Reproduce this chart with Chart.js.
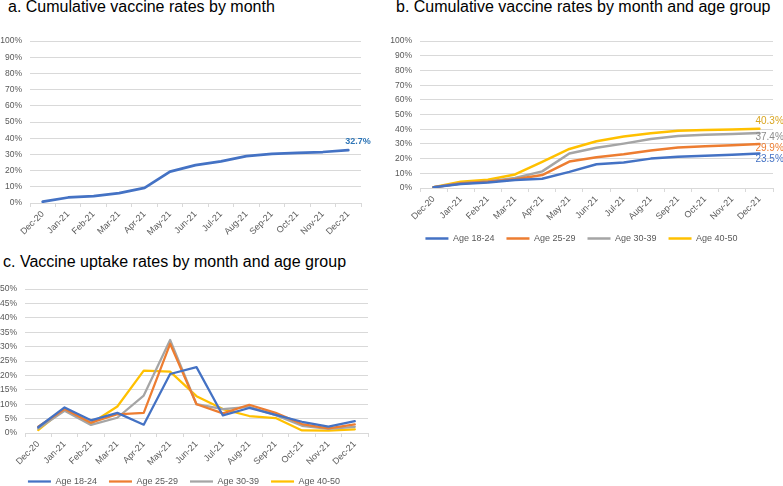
<!DOCTYPE html>
<html>
<head>
<meta charset="utf-8">
<script src="https://cdn.jsdelivr.net/npm/chart.js@4.4.1/dist/chart.umd.min.js"></script>
<style>
  html, body { margin: 0; padding: 0; background: #fff; overflow: hidden; }
  body { width: 783px; height: 486px; position: relative; font-family: "Liberation Sans", Arial, sans-serif; }
  .title { position: absolute; font-size: 16px; line-height: 16px; color: #000; white-space: nowrap; }
  canvas { position: absolute; }
</style>
</head>
<body>
<div class="title" style="left:8px;top:-1px">a. Cumulative vaccine rates by month</div>
<div class="title" style="left:396px;top:-1px">b. Cumulative vaccine rates by month and age group</div>
<div class="title" style="left:3px;top:254px">c. Vaccine uptake rates by month and age group</div>
<canvas id="chartA" width="390" height="212" style="left:0;top:28px"></canvas>
<canvas id="chartB" width="393" height="225" style="left:390px;top:28px"></canvas>
<canvas id="chartC" width="390" height="220" style="left:0;top:276px"></canvas>

<script>
// ------------------------------------------------------
// DATA
// ------------------------------------------------------
const months = ["Dec-20", "Jan-21", "Feb-21", "Mar-21", "Apr-21", "May-21", "Jun-21",
                "Jul-21", "Aug-21", "Sep-21", "Oct-21", "Nov-21", "Dec-21"];
const ageGroups = ["Age 18-24", "Age 25-29", "Age 30-39", "Age 40-50"];

// a. cumulative, all ages (%)
const overallCum = [0.8, 3.4, 4.2, 6.1, 9.3, 19.4, 23.4, 25.7, 28.9, 30.3, 30.9, 31.5, 32.7];

// b. cumulative by age group (%)
const cum1824 = [0.5, 2.8, 3.8, 5.4, 6.3, 11.0, 16.2, 17.4, 20.0, 21.2, 22.0, 22.6, 23.5];
const cum2529 = [0.5, 3.0, 4.2, 6.0, 8.8, 18.0, 21.0, 23.0, 25.6, 27.6, 28.5, 29.1, 29.9];
const cum3039 = [0.5, 3.2, 4.5, 6.8, 11.3, 23.5, 27.4, 30.2, 33.4, 35.4, 36.3, 36.8, 37.4];
const cum4050 = [0.5, 4.2, 5.6, 9.2, 17.8, 26.6, 31.8, 35.0, 37.2, 38.9, 39.5, 39.9, 40.3];

// c. monthly uptake by age group (%)
const up1824 = [2.0, 8.9, 4.4, 7.0, 2.9, 20.5, 22.9, 6.1, 8.7, 6.3, 3.9, 2.2, 4.1];
const up2529 = [2.2, 8.3, 3.6, 6.5, 7.0, 31.0, 10.0, 6.8, 9.8, 7.0, 3.1, 1.6, 3.0];
const up3039 = [1.5, 7.7, 2.8, 5.3, 13.0, 32.3, 10.0, 8.3, 9.1, 6.2, 2.5, 1.4, 2.1];
const up4050 = [1.0, 8.5, 3.3, 9.2, 21.7, 21.3, 12.8, 8.3, 5.9, 5.2, 0.9, 0.8, 1.3];

const colors = ["#4472C4", "#ED7D31", "#A5A5A5", "#FFC000"];
const gridColor = "#D9D9D9";
const tickColor = "#595959";
const tickFont = { family: "Liberation Sans", size: 8.5 };
const xTickFont = { family: "Liberation Sans", size: 9 };


// ------------------------------------------------------
// PLUGIN — VALUE LABEL AT LAST POINT
// ------------------------------------------------------
const endLabels = {
  id: "endLabels",
  afterDatasetsDraw(chart, args, opts) {
    if (!opts.items) return;
    const ctx = chart.ctx;
    ctx.save();
    opts.items.forEach(item => {
      const meta = chart.getDatasetMeta(item.dataset);
      const pt = meta.data[meta.data.length - 1];
      const values = chart.data.datasets[item.dataset].data;
      ctx.font = item.font;
      ctx.fillStyle = item.color;
      ctx.textAlign = "left";
      ctx.textBaseline = "middle";
      ctx.fillText(values[values.length - 1].toFixed(1) + "%", pt.x + item.dx, pt.y + item.dy);
    });
    ctx.restore();
  }
};


// ------------------------------------------------------
// SHARED OPTIONS
// ------------------------------------------------------
function makeOptions(cfg) {
  return {
    responsive: false,
    animation: false,
    devicePixelRatio: 1,
    layout: { padding: cfg.padding },
    scales: {
      x: {
        offset: true,
        grid: {
          offset: true,
          drawOnChartArea: false,
          drawTicks: true,
          tickLength: 4,
          color: gridColor
        },
        border: { display: true, color: gridColor },
        ticks: {
          color: tickColor,
          font: xTickFont,
          minRotation: 45,
          maxRotation: 45,
          autoSkip: false,
          padding: 2
        },
        afterFit: s => { s.height = cfg.xHeight; }
      },
      y: {
        min: 0,
        max: cfg.yMax,
        grid: { color: gridColor, drawTicks: false },
        border: { display: false },
        ticks: {
          stepSize: cfg.step,
          color: tickColor,
          font: tickFont,
          padding: 8,
          callback: v => v + "%"
        },
        afterFit: s => { s.width = cfg.yWidth; }
      }
    },
    plugins: {
      legend: cfg.legend ? {
        display: true,
        position: "bottom",
        labels: {
          usePointStyle: true,
          pointStyle: "line",
          pointStyleWidth: 23,
          color: tickColor,
          font: { family: "Liberation Sans", size: 9 },
          padding: 12
        }
      } : { display: false },
      tooltip: { enabled: false },
      endLabels: { items: cfg.labels || [] }
    }
  };
}

function lineSet(label, data, color, width) {
  return {
    label,
    data,
    borderColor: color,
    backgroundColor: color,
    borderWidth: width,
    pointRadius: 0,
    tension: 0,
    borderJoinStyle: "round",
    borderCapStyle: "round"
  };
}


// ------------------------------------------------------
// a. CUMULATIVE — ALL
// ------------------------------------------------------
new Chart(document.getElementById("chartA"), {
  type: "line",
  data: {
    labels: months,
    datasets: [lineSet("All", overallCum, colors[0], 2.75)]
  },
  options: makeOptions({
    padding: { top: 6, right: 29, left: 0, bottom: 0 },
    xHeight: 37, yWidth: 30, yMax: 100, step: 10, legend: false,
    labels: [{ dataset: 0, dx: -3, dy: -9, font: "bold 9px 'Liberation Sans'", color: "#2E75B6" }]
  }),
  plugins: [endLabels]
});


// ------------------------------------------------------
// b. CUMULATIVE — BY AGE GROUP
// ------------------------------------------------------
new Chart(document.getElementById("chartB"), {
  type: "line",
  data: {
    labels: months,
    datasets: [
      lineSet(ageGroups[0], cum1824, colors[0], 2.5),
      lineSet(ageGroups[1], cum2529, colors[1], 2.5),
      lineSet(ageGroups[2], cum3039, colors[2], 2.5),
      lineSet(ageGroups[3], cum4050, colors[3], 2.5)
    ]
  },
  options: makeOptions({
    padding: { top: 6, right: 10, left: 0, bottom: 0 },
    xHeight: 34, yWidth: 30, yMax: 100, step: 10, legend: true,
    labels: [
      { dataset: 3, dx: -4, dy: -8, font: "10px 'Liberation Sans'", color: "#D9A520" },
      { dataset: 2, dx: -4, dy: 4, font: "10px 'Liberation Sans'", color: "#8C8C8C" },
      { dataset: 1, dx: -4, dy: 4, font: "10px 'Liberation Sans'", color: "#ED7D31" },
      { dataset: 0, dx: -4, dy: 6, font: "10px 'Liberation Sans'", color: "#4472C4" }
    ]
  }),
  plugins: [endLabels]
});


// ------------------------------------------------------
// c. MONTHLY UPTAKE — BY AGE GROUP
// ------------------------------------------------------
new Chart(document.getElementById("chartC"), {
  type: "line",
  data: {
    labels: months,
    datasets: [
      lineSet(ageGroups[0], up1824, colors[0], 2.25),
      lineSet(ageGroups[1], up2529, colors[1], 2.25),
      lineSet(ageGroups[2], up3039, colors[2], 2.25),
      lineSet(ageGroups[3], up4050, colors[3], 2.25)
    ]
  },
  options: makeOptions({
    padding: { top: 12, right: 22, left: 0, bottom: 0 },
    xHeight: 32, yWidth: 25, yMax: 50, step: 5, legend: true
  }),
  plugins: [endLabels]
});
</script>
</body>
</html>
